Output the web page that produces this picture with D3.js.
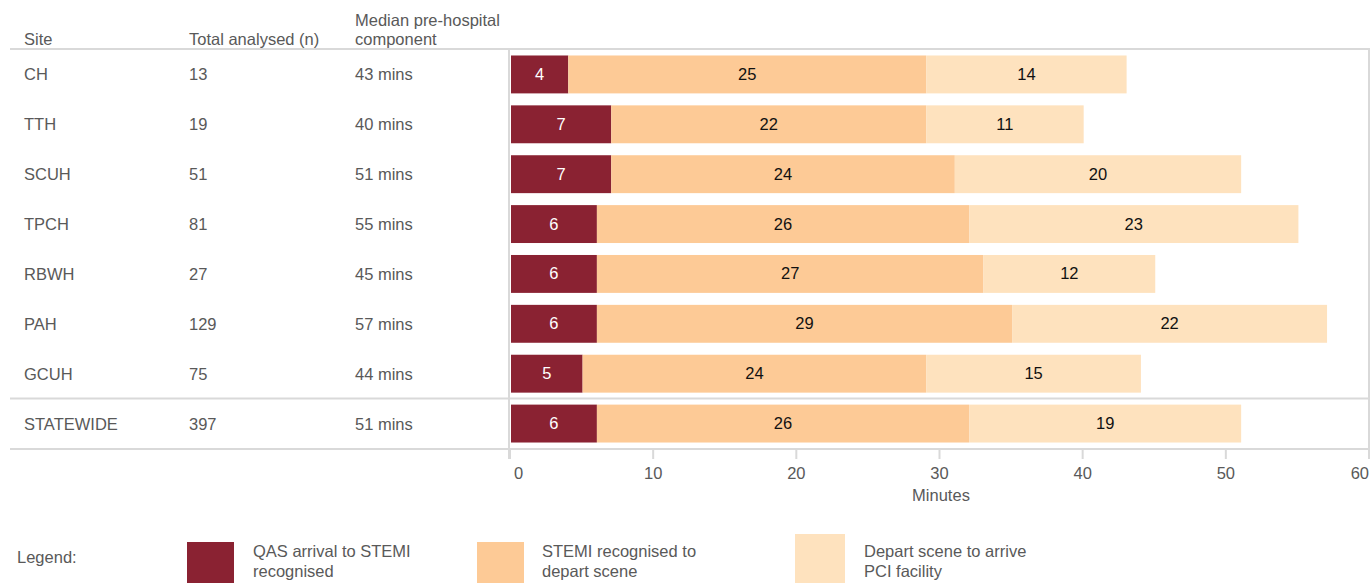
<!DOCTYPE html>
<html>
<head>
<meta charset="utf-8">
<script src="https://cdn.jsdelivr.net/npm/d3@7"></script>
<style>
  html, body { margin: 0; padding: 0; background: #fff; }
  svg { display: block; font-family: "Liberation Sans", Arial, sans-serif; }
</style>
</head>
<body>
<svg id="chart" width="1371" height="583"></svg>
<script>
// Pre-hospital time components per site (minutes)
const sites = ["CH", "TTH", "SCUH", "TPCH", "RBWH", "PAH", "GCUH", "STATEWIDE"];
const totalAnalysed = [13, 19, 51, 81, 27, 129, 75, 397];
const medianComponent = [43, 40, 51, 55, 45, 57, 44, 51];
const arrivalToRecognised = [4, 7, 7, 6, 6, 6, 5, 6];
const recognisedToDepart = [25, 22, 24, 26, 27, 29, 24, 26];
const departToPci = [14, 11, 20, 23, 12, 22, 15, 19];
const seriesNames = [
  ["QAS arrival to STEMI", "recognised"],
  ["STEMI recognised to", "depart scene"],
  ["Depart scene to arrive", "PCI facility"]
];
const xTicks = [0, 10, 20, 30, 40, 50, 60];

const colors = ["#8a2232", "#fdca96", "#fee2be"];
const textGrey = "#595959";
const ruleGrey = "#d9d9d9";
const fontSize = 16.5;

const svg = d3.select("#chart");

const x = d3.scaleLinear().domain([0, 60]).range([510, 1369]);
const y = d3.scaleBand().domain(sites).range([49.5, 448.5]).paddingInner(0.24).paddingOuter(0.12);

const rows = sites.map((s, i) => ({
  site: s,
  n: totalAnalysed[i],
  median: medianComponent[i],
  parts: [arrivalToRecognised[i], recognisedToDepart[i], departToPci[i]]
}));

// Column headers
const hdr = svg.append("g").attr("fill", textGrey).attr("font-size", fontSize);
hdr.append("text").attr("x", 24).attr("y", 45).text("Site");
hdr.append("text").attr("x", 189).attr("y", 45).text("Total analysed (n)");
hdr.append("text").attr("x", 355).attr("y", 26).text("Median pre-hospital");
hdr.append("text").attr("x", 355).attr("y", 45).text("component");

// Table rules
const rules = svg.append("g").attr("stroke", ruleGrey).attr("stroke-width", 2);
rules.append("line").attr("x1", 10).attr("x2", 1370).attr("y1", 49).attr("y2", 49);
rules.append("line").attr("x1", 10).attr("x2", 1370).attr("y1", 398.5).attr("y2", 398.5);
rules.append("line").attr("x1", 10).attr("x2", 1370).attr("y1", 449).attr("y2", 449);
rules.append("line").attr("x1", x(0) - 1).attr("x2", x(0) - 1).attr("y1", 49).attr("y2", 459);
rules.append("line").attr("x1", x(60)).attr("x2", x(60)).attr("y1", 49).attr("y2", 459);

// Row text
const rowText = svg.append("g").attr("fill", textGrey).attr("font-size", fontSize);
rows.forEach(r => {
  const cy = y(r.site) + y.bandwidth() / 2 + 6;
  rowText.append("text").attr("x", 24).attr("y", cy).text(r.site);
  rowText.append("text").attr("x", 189).attr("y", cy).text(r.n);
  rowText.append("text").attr("x", 355).attr("y", cy).text(r.median + " mins");
});

// Stacked bars
const stacked = d3.stack().keys([0, 1, 2]).value((d, k) => d.parts[k])(rows);
stacked.forEach((layer, k) => {
  const g = svg.append("g");
  g.selectAll("rect").data(layer).join("rect")
    .attr("x", d => x(d[0]) + 1)
    .attr("width", d => x(d[1]) - x(d[0]))
    .attr("y", d => y(d.data.site))
    .attr("height", y.bandwidth())
    .attr("fill", colors[k]);
  g.selectAll("text").data(layer).join("text")
    .attr("x", d => (x(d[0]) + x(d[1])) / 2 + 1)
    .attr("y", d => y(d.data.site) + y.bandwidth() / 2 + 5.5)
    .attr("text-anchor", "middle")
    .attr("font-size", fontSize)
    .attr("fill", k === 0 ? "#ffffff" : "#111111")
    .text(d => d[1] - d[0]);
});

// Axis ticks and labels
const axis = svg.append("g");
axis.selectAll("line").data(xTicks).join("line")
  .attr("x1", d => x(d)).attr("x2", d => x(d))
  .attr("y1", 449).attr("y2", 459)
  .attr("stroke", ruleGrey).attr("stroke-width", 2);
axis.selectAll("text").data(xTicks).join("text")
  .attr("x", (d, i) => i === 0 ? x(d) + 4 : x(d))
  .attr("text-anchor", (d, i) => i === 0 ? "start" : (i === xTicks.length - 1 ? "end" : "middle"))
  .attr("y", 479)
  .attr("font-size", fontSize)
  .attr("fill", textGrey)
  .text(d => d);
svg.append("text").attr("x", 941).attr("y", 501).attr("text-anchor", "middle")
  .attr("font-size", fontSize).attr("fill", textGrey).text("Minutes");

// Legend
const legend = svg.append("g").attr("font-size", fontSize).attr("fill", textGrey);
legend.append("text").attr("x", 17).attr("y", 563).text("Legend:");
const legendBoxes = [
  { x: 187, y: 542, w: 47 },
  { x: 477, y: 542, w: 47 },
  { x: 795, y: 534, w: 50 }
];
const legendTextX = [253, 542, 864];
legendBoxes.forEach((b, k) => {
  legend.append("rect").attr("x", b.x).attr("y", b.y).attr("width", b.w).attr("height", 583 - b.y)
    .attr("fill", colors[k]);
  legend.append("text").attr("x", legendTextX[k]).attr("y", 557).text(seriesNames[k][0]);
  legend.append("text").attr("x", legendTextX[k]).attr("y", 577).text(seriesNames[k][1]);
});
</script>
</body>
</html>
